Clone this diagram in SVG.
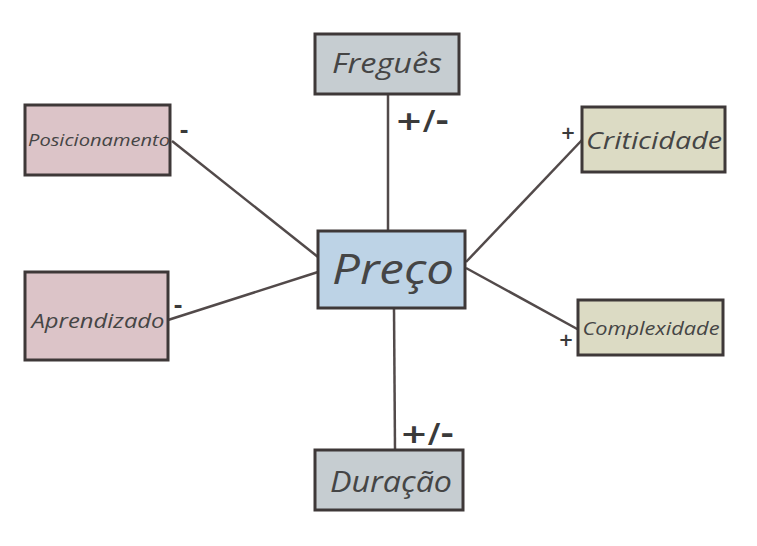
<svg xmlns="http://www.w3.org/2000/svg" width="757" height="546" viewBox="0 0 757 546">
<style>
.box{stroke:#3e3838;stroke-width:3;}
.t{font-family:"Open Sans","DejaVu Sans",sans-serif;font-style:italic;fill:#454545;text-anchor:middle;}
.c{stroke:#524a4a;stroke-width:2.5;fill:none;}
.s{font-family:"DejaVu Sans",sans-serif;font-weight:bold;fill:#3a3a3a;text-anchor:middle;}
</style>
<rect width="757" height="546" fill="#ffffff"/>
<g id="connectors">
<line class="c" x1="388" y1="94" x2="388" y2="231"/>
<line class="c" x1="394" y1="308" x2="395" y2="450"/>
<line class="c" x1="172" y1="141" x2="318" y2="257"/>
<line class="c" x1="168" y1="320" x2="318" y2="272"/>
<line class="c" x1="582" y1="140" x2="466" y2="262"/>
<line class="c" x1="579" y1="330" x2="466" y2="268"/>
<text class="s" x="422" y="130" font-size="26" textLength="54" lengthAdjust="spacingAndGlyphs">+/-</text>
<text class="s" x="427" y="443" font-size="26" textLength="54" lengthAdjust="spacingAndGlyphs">+/-</text>
<text class="s" x="184" y="138" font-size="22">-</text>
<text class="s" x="178" y="313" font-size="22">-</text>
<text class="s" x="568" y="139" font-size="18">+</text>
<text class="s" x="566" y="346" font-size="18">+</text>
</g>
<g id="fregues">
<rect class="box" x="315" y="34" width="144" height="60" fill="#c6cdd1"/>
<text class="t" x="387" y="73" font-size="27" textLength="110" lengthAdjust="spacingAndGlyphs">Freguês</text>
</g>
<g id="posicionamento">
<rect class="box" x="25" y="105" width="145" height="70" fill="#dcc4c8"/>
<text class="t" x="99" y="146" font-size="17" textLength="142" lengthAdjust="spacingAndGlyphs">Posicionamento</text>
</g>
<g id="aprendizado">
<rect class="box" x="25" y="272" width="143" height="88" fill="#dcc4c8"/>
<text class="t" x="98" y="328" font-size="20" textLength="133" lengthAdjust="spacingAndGlyphs">Aprendizado</text>
</g>
<g id="preco">
<rect class="box" x="318" y="231" width="147" height="77" fill="#bdd3e6"/>
<text class="t" x="393" y="284" font-size="42" textLength="122" lengthAdjust="spacingAndGlyphs">Preço</text>
</g>
<g id="criticidade">
<rect class="box" x="582" y="107" width="143" height="65" fill="#dcdbc4"/>
<text class="t" x="654" y="149" font-size="24" textLength="136" lengthAdjust="spacingAndGlyphs">Criticidade</text>
</g>
<g id="complexidade">
<rect class="box" x="578" y="300" width="145" height="55" fill="#dcdbc4"/>
<text class="t" x="651" y="335" font-size="19" textLength="137" lengthAdjust="spacingAndGlyphs">Complexidade</text>
</g>
<g id="duracao">
<rect class="box" x="315" y="450" width="148" height="60" fill="#c6cdd1"/>
<text class="t" x="391" y="492" font-size="30" textLength="122" lengthAdjust="spacingAndGlyphs">Duração</text>
</g>
</svg>
